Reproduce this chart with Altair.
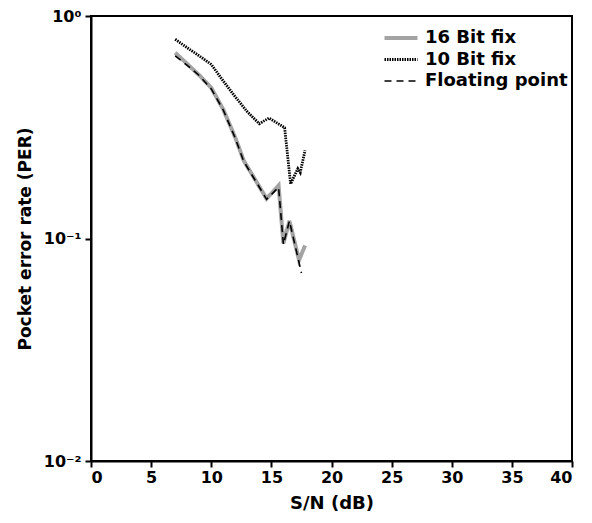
import altair as alt
import pandas as pd

series_names = ["16 Bit fix", "10 Bit fix", "Floating point"]

x16 = [7, 8, 9, 10, 11, 12, 12.7, 14, 14.6, 15.6, 16.0, 16.5, 17.3, 17.8]
y16 = [0.684, 0.609, 0.542, 0.476, 0.38, 0.284, 0.224, 0.171, 0.151, 0.173, 0.095, 0.120, 0.080, 0.093]

x10 = [7, 8, 9, 10, 11, 11.9, 13, 14, 14.8, 16.1, 16.6, 17.2, 17.4, 17.8]
y10 = [0.786, 0.72, 0.662, 0.606, 0.51, 0.44, 0.371, 0.328, 0.348, 0.315, 0.176, 0.206, 0.198, 0.249]

xfp = [7, 8, 9, 10, 11, 12, 12.7, 14, 14.6, 15.6, 16.0, 16.5, 17.5]
yfp = [0.662, 0.60, 0.54, 0.47, 0.378, 0.282, 0.222, 0.170, 0.150, 0.170, 0.094, 0.120, 0.070]

rows = []
for name, xs, ys in [(series_names[0], x16, y16), (series_names[1], x10, y10), (series_names[2], xfp, yfp)]:
    for i, (a, b) in enumerate(zip(xs, ys)):
        rows.append({"series": name, "snr": a, "per": b, "order": i})
df = pd.DataFrame(rows)

FONT = "DejaVu Sans"

legend = alt.Legend(
    title=None, orient="none", legendX=297, legendY=9,
    labelFont=FONT, labelFontSize=18, labelFontWeight="bold", labelColor="black",
    symbolType="M-1.5,0H1.5", symbolSize=484, rowPadding=0, labelOffset=11,
)

chart = alt.Chart(df).mark_line().encode(
    x=alt.X("snr:Q", title="S/N (dB)",
            scale=alt.Scale(domain=[0, 40], nice=False),
            axis=alt.Axis(values=[0, 5, 10, 15, 20, 25, 30, 35, 40], grid=False, labelFlush=1)),
    y=alt.Y("per:Q", title="Pocket error rate (PER)",
            scale=alt.Scale(type="log", domain=[0.01, 1], nice=False),
            axis=alt.Axis(values=[0.01, 0.1, 1], grid=False,
                          labelExpr="datum.value == 1 ? '10⁰' : datum.value == 0.1 ? '10⁻¹' : '10⁻²'")),
    color=alt.Color("series:N", scale=alt.Scale(domain=series_names, range=["#a3a3a3", "black", "black"]), legend=legend),
    strokeDash=alt.StrokeDash("series:N", scale=alt.Scale(domain=series_names, range=[[1, 0], [1.5, 1], [7, 5]]), legend=legend),
    strokeWidth=alt.StrokeWidth("series:N", scale=alt.Scale(domain=series_names, range=[4, 1.6, 3]), legend=legend),
    order="order:Q",
).properties(
    width=481, height=445,
    autosize=alt.AutoSizeParams(type="none"),
    padding={"left": 83, "top": 8, "right": 2, "bottom": 54},
).configure_view(
    stroke="black", strokeWidth=2
).configure_axis(
    domainColor="black", domainWidth=2, tickColor="black", tickWidth=2, tickSize=6,
    labelFont=FONT, labelFontSize=16, labelFontWeight="bold", labelColor="black",
    titleColor="black",
).configure_axisX(
    titleFont=FONT, titleFontSize=18, titleFontWeight="bold", labelPadding=2, titlePadding=9,
).configure_axisY(
    titleFont=FONT, titleFontSize=17, titleFontWeight="bold", labelPadding=4, titlePadding=9,
)

chart.save("out.html", embed_options={"renderer": "svg", "actions": False})
